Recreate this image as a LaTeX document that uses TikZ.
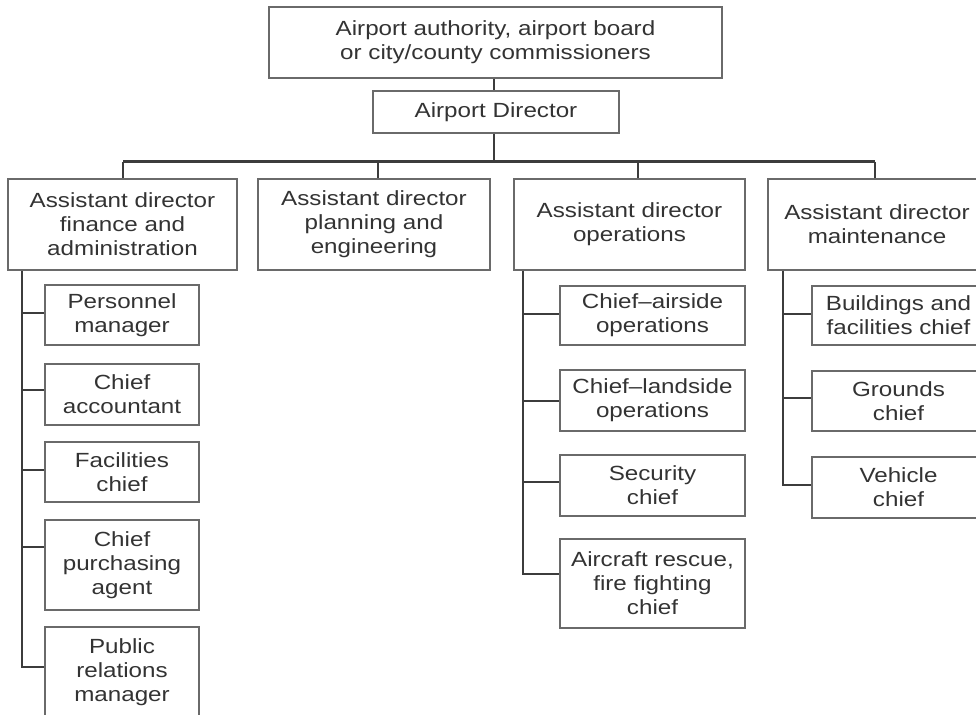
\documentclass[tikz,border=0pt]{standalone}
\usepackage{fontspec}
\setmainfont[FakeStretch=1.18]{Liberation Sans}
\definecolor{boxline}{HTML}{6A6A6A}
\definecolor{conline}{HTML}{3C3C3C}
\definecolor{txt}{HTML}{333333}
\begin{document}
\begin{tikzpicture}[x=1pt,y=-1pt,
  box/.style={draw=boxline, line width=1.4pt, fill=white, inner sep=0pt, align=center,
    text=txt, font=\fontsize{20.5}{24}\selectfont},
  con/.style={draw=conline, line width=2.4pt}]
\useasboundingbox (0,0) rectangle (976,714);
\clip (0,0) rectangle (976,714);
\fill[white] (0,0) rectangle (976,714);

% top levels
\node[box, minimum width=453pt, minimum height=71pt] (top) at (495.5,42.5) {Airport authority, airport board\\or city/county commissioners};
\node[box, minimum width=246pt, minimum height=42pt] (dir) at (496,112) {Airport Director};

% assistant directors
\node[box, minimum width=229pt, minimum height=91pt] (fin) at (122.5,224.5) {Assistant director\\finance and\\administration};
\node[box, minimum width=232pt, minimum height=91pt] (plan) at (374,224.5) {Assistant director\\planning and\\engineering};
\node[box, minimum width=231pt, minimum height=91pt] (ops) at (629.5,224.5) {Assistant director\\operations};
\node[box, minimum width=218pt, minimum height=91pt] (mnt) at (877,224.5) {Assistant director\\maintenance};

% finance subordinates
\node[box, minimum width=154pt, minimum height=60pt] (pm) at (122,315) {Personnel\\manager};
\node[box, minimum width=154pt, minimum height=61pt] (ca) at (122,394.5) {Chief\\accountant};
\node[box, minimum width=154pt, minimum height=60pt] (fc) at (122,472) {Facilities\\chief};
\node[box, minimum width=154pt, minimum height=90pt] (cp) at (122,565) {Chief\\purchasing\\agent};
\node[box, minimum width=154pt, minimum height=90pt] (pr) at (122,672) {Public\\relations\\manager};

% operations subordinates
\node[box, minimum width=185pt, minimum height=59pt] (air) at (652.5,315.5) {Chief–airside\\operations};
\node[box, minimum width=185pt, minimum height=61pt] (land) at (652.5,400.5) {Chief–landside\\operations};
\node[box, minimum width=185pt, minimum height=61pt] (sec) at (652.5,485.5) {Security\\chief};
\node[box, minimum width=185pt, minimum height=89pt] (arf) at (652.5,583.5) {Aircraft rescue,\\fire fighting\\chief};

% maintenance subordinates
\node[box, minimum width=173pt, minimum height=59pt] (bld) at (898.5,315.5) {Buildings and\\facilities chief};
\node[box, minimum width=173pt, minimum height=60pt] (grd) at (898.5,401) {Grounds\\chief};
\node[box, minimum width=173pt, minimum height=61pt] (veh) at (898.5,487.5) {Vehicle\\chief};

% trunk
\coordinate (t0) at (494,0);
\draw[con, line width=1.8pt] (t0 |- top.south) -- (t0 |- dir.north);
\coordinate (busL) at (123,162);
\coordinate (busR) at (875,162);
\coordinate (busM) at (494,162);
\draw[con] (t0 |- dir.south) -- (busM);
\draw[con, line width=3pt] (busL) -- (busR);
\coordinate (d2) at (378,162);
\coordinate (d3) at (638,162);
\draw[con] (busL) -- (busL |- fin.north);
\draw[con] (d2) -- (d2 |- plan.north);
\draw[con] (d3) -- (d3 |- ops.north);
\draw[con] (busR) -- (busR |- mnt.north);

% finance branch
\coordinate (f1) at (22,313);
\coordinate (f2) at (22,390);
\coordinate (f3) at (22,470);
\coordinate (f4) at (22,547);
\coordinate (f5) at (22,667);
\draw[con] (f1 |- fin.south) -- (f5) -- (f5 -| pr.west);
\draw[con] (f1) -- (f1 -| pm.west);
\draw[con] (f2) -- (f2 -| ca.west);
\draw[con] (f3) -- (f3 -| fc.west);
\draw[con] (f4) -- (f4 -| cp.west);

% operations branch
\coordinate (o1) at (523,314);
\coordinate (o2) at (523,401);
\coordinate (o3) at (523,482);
\coordinate (o4) at (523,574);
\draw[con] (o1 |- ops.south) -- (o4) -- (o4 -| arf.west);
\draw[con] (o1) -- (o1 -| air.west);
\draw[con] (o2) -- (o2 -| land.west);
\draw[con] (o3) -- (o3 -| sec.west);

% maintenance branch
\coordinate (m1) at (783,314);
\coordinate (m2) at (783,398);
\coordinate (m3) at (783,485);
\draw[con] (m1 |- mnt.south) -- (m3) -- (m3 -| veh.west);
\draw[con] (m1) -- (m1 -| bld.west);
\draw[con] (m2) -- (m2 -| grd.west);
\end{tikzpicture}
\end{document}
